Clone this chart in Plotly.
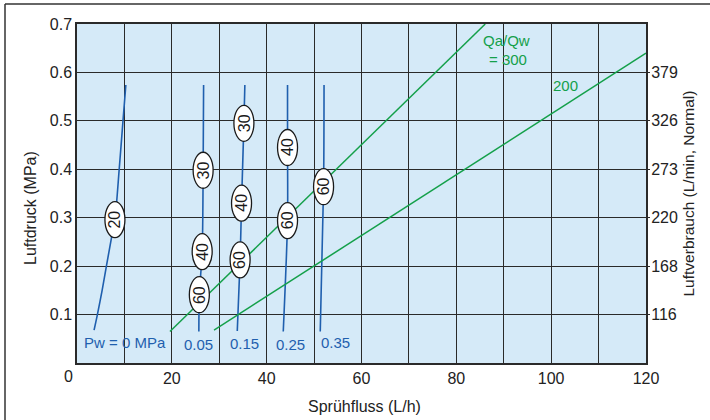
import plotly.graph_objects as go

# ---------------- data ----------------
x_ticks = [0, 10, 20, 30, 40, 50, 60, 70, 80, 90, 100, 110, 120]
x_tick_labels = ["", "", "20", "", "40", "", "60", "", "80", "", "100", "", "120"]
y_ticks = [0.1, 0.2, 0.3, 0.4, 0.5, 0.6, 0.7]
y_tick_labels = ["0.1", "0.2", "0.3", "0.4", "0.5", "0.6", "0.7"]
y2_ticks = [0.1, 0.2, 0.3, 0.4, 0.5, 0.6]
y2_tick_labels = ["116", "168", "220", "273", "326", "379"]

# water pressure curves (Pw)
pw0_x = [3.6, 4.3, 5.3, 6.2, 7.3, 8.0, 8.9, 9.7, 10.3]
pw0_y = [0.068, 0.10, 0.15, 0.20, 0.26, 0.296, 0.40, 0.50, 0.574]
pw005_x = [25.7, 25.8, 26.4, 26.6, 26.7]
pw005_y = [0.065, 0.141, 0.23, 0.398, 0.574]
pw015_x = [33.8, 34.4, 34.7, 35.2, 35.4]
pw015_y = [0.066, 0.213, 0.33, 0.495, 0.574]
pw025_x = [43.5, 44.4, 44.4, 44.4]
pw025_y = [0.065, 0.294, 0.445, 0.574]
pw035_x = [51.3, 52.0, 52.1]
pw035_y = [0.065, 0.364, 0.574]

pw_names = ["Pw = 0 MPa", "0.05", "0.15", "0.25", "0.35"]
pw_label_x = [10.1, 25.7, 35.4, 45.1, 54.6]
pw_label_y = [0.042, 0.039, 0.041, 0.039, 0.043]

# ellipse labels on curves
ell_text = ["20", "60", "40", "30", "60", "40", "30", "60", "40", "60"]
ell_x = [8.0, 25.8, 26.4, 26.6, 34.4, 34.7, 35.2, 44.4, 44.4, 52.0]
ell_y = [0.296, 0.141, 0.23, 0.398, 0.213, 0.33, 0.495, 0.294, 0.445, 0.364]

# air/water ratio lines
q300_x = [19.6, 86.1]
q300_y = [0.065, 0.70]
q200_x = [28.9, 120.0]
q200_y = [0.068, 0.640]

# ---------------- styling ----------------
FONT = "Liberation Sans, Arial, sans-serif"
BLUE = "#1f5fae"
GREEN = "#14a04a"
GRID = "#2a2a2a"
BG = "#d5eaf8"

fig = go.Figure()

for xs, ys in [(pw0_x, pw0_y), (pw005_x, pw005_y), (pw015_x, pw015_y),
               (pw025_x, pw025_y), (pw035_x, pw035_y)]:
    fig.add_trace(go.Scatter(x=xs, y=ys, mode="lines",
                             line=dict(color=BLUE, width=1.6, shape="spline", smoothing=0.8),
                             hoverinfo="skip", showlegend=False))

for xs, ys in [(q300_x, q300_y), (q200_x, q200_y)]:
    fig.add_trace(go.Scatter(x=xs, y=ys, mode="lines",
                             line=dict(color=GREEN, width=1.5),
                             hoverinfo="skip", showlegend=False))

# invisible trace for right axis
fig.add_trace(go.Scatter(x=[0], y=[0], yaxis="y2", mode="markers",
                         marker=dict(opacity=0), hoverinfo="skip", showlegend=False))

shapes = []
annotations = []

for t, xv, yv in zip(ell_text, ell_x, ell_y):
    shapes.append(dict(type="circle", xref="x", yref="y", xsizemode="pixel", ysizemode="pixel",
                       xanchor=xv, yanchor=yv, x0=-10, x1=10, y0=-18, y1=18,
                       fillcolor="white", line=dict(color="#1a1a1a", width=1.3), layer="above"))
    annotations.append(dict(x=xv, y=yv, xref="x", yref="y", text=t, showarrow=False,
                            xanchor="center", yanchor="middle",
                            textangle=-90, font=dict(family=FONT, size=16, color="#1a1a1a")))

for t, xv, yv in zip(pw_names, pw_label_x, pw_label_y):
    annotations.append(dict(x=xv, y=yv, xref="x", yref="y", text=t, showarrow=False,
                            xanchor="center", yanchor="middle",
                            font=dict(family=FONT, size=15, color=BLUE)))


def note(px, py, text, size=16, color="#222", angle=0):
    return dict(x=(px - 77) / 569, y=(363 - py) / 339, xref="paper", yref="paper",
                text=text, showarrow=False, textangle=angle,
                xanchor="center", yanchor="middle",
                font=dict(family=FONT, size=size, color=color))


annotations += [
    dict(x=90.5, y=0.666, xref="x", yref="y", text="Qa/Qw", showarrow=False,
         xanchor="center", yanchor="middle",
         font=dict(family=FONT, size=15, color=GREEN)),
    dict(x=91.0, y=0.627, xref="x", yref="y", text="= 300", showarrow=False,
         xanchor="center", yanchor="middle",
         font=dict(family=FONT, size=15, color=GREEN)),
    dict(x=103.0, y=0.574, xref="x", yref="y", text="200", showarrow=False,
         xanchor="center", yanchor="middle",
         font=dict(family=FONT, size=15, color=GREEN)),
    note(30, 208, "Luftdruck (MPa)", 16, angle=-90),
    note(688, 193.5, "Luftverbrauch (L/min, Normal)", 15.5, angle=-90),
    note(364, 406, "Sprühfluss (L/h)", 16),
    note(68, 376, "0", 16),
]

# outer frame (left and top edges)
shapes.append(dict(type="line", xref="paper", yref="paper",
                   x0=(5 - 77) / 569, x1=(5 - 77) / 569, y0=(363 - 4) / 339, y1=(363 - 425) / 339,
                   line=dict(color="#333", width=1.5), layer="above"))
shapes.append(dict(type="line", xref="paper", yref="paper",
                   x0=(5 - 77) / 569, x1=(715 - 77) / 569, y0=(363 - 4) / 339, y1=(363 - 4) / 339,
                   line=dict(color="#333", width=1.5), layer="above"))

fig.update_layout(
    width=710, height=420,
    margin=dict(l=77, r=64, t=24, b=57, autoexpand=False),
    paper_bgcolor="white",
    plot_bgcolor=BG,
    font=dict(family=FONT, size=16, color="#222"),
    showlegend=False,
    shapes=shapes,
    annotations=annotations,
    xaxis=dict(range=[0, 120], tickvals=x_ticks, ticktext=x_tick_labels,
               showgrid=True, gridcolor=GRID, gridwidth=1.4,
               showline=True, linecolor=GRID, linewidth=1.5, mirror=True,
               ticks="", zeroline=False, tickfont=dict(size=16), fixedrange=True),
    yaxis=dict(range=[0, 0.7], tickvals=y_ticks, ticktext=y_tick_labels,
               showgrid=True, gridcolor=GRID, gridwidth=1.4,
               showline=True, linecolor=GRID, linewidth=1.5, mirror=True,
               ticks="", zeroline=False, tickfont=dict(size=16), fixedrange=True),
    yaxis2=dict(range=[0, 0.7], overlaying="y", side="right",
                tickvals=y2_ticks, ticktext=y2_tick_labels,
                showgrid=False, zeroline=False, showline=False,
                ticks="outside", ticklen=3, tickcolor=GRID, tickwidth=1.3,
                ticklabelstandoff=-2,
                tickfont=dict(size=16), fixedrange=True),
)

fig.write_html("out.html", config={"displayModeBar": False},
               post_script="document.body.style.margin='0';document.body.style.overflow='hidden';")
